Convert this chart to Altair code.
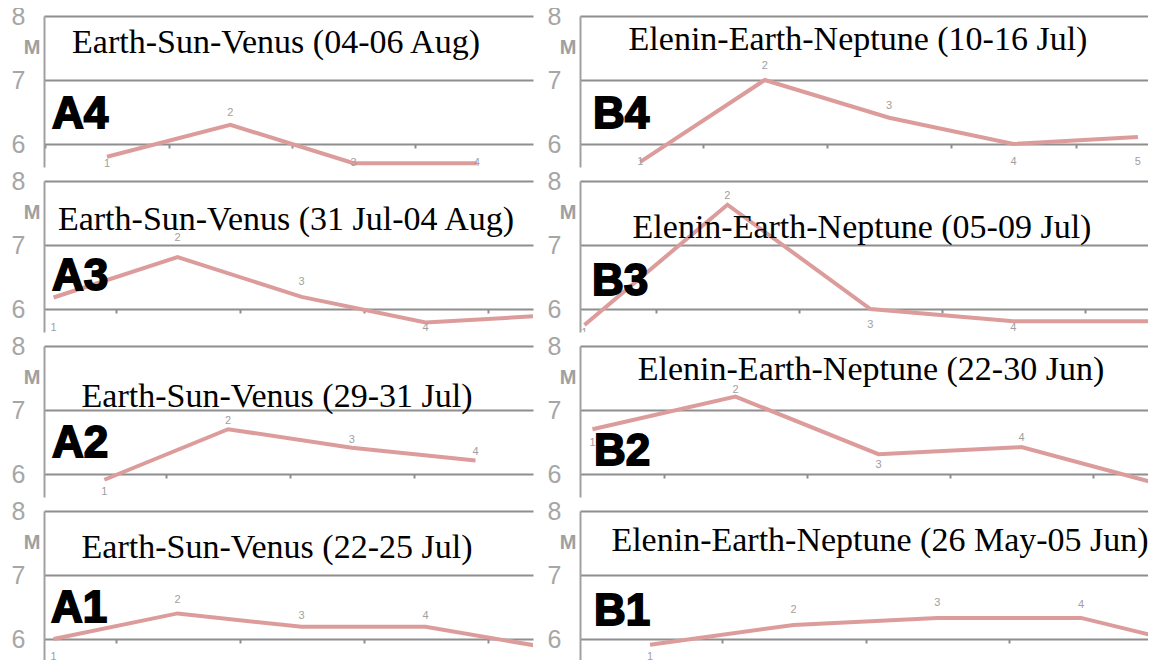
import altair as alt
import pandas as pd

# ---------------- data ----------------
PANELS = ["A4", "B4", "A3", "B3", "A2", "B2", "A1", "B1"]
TITLES = {
    "A4": "Earth-Sun-Venus (04-06 Aug)",
    "B4": "Elenin-Earth-Neptune (10-16 Jul)",
    "A3": "Earth-Sun-Venus (31 Jul-04 Aug)",
    "B3": "Elenin-Earth-Neptune (05-09 Jul)",
    "A2": "Earth-Sun-Venus (29-31 Jul)",
    "B2": "Elenin-Earth-Neptune (22-30 Jun)",
    "A1": "Earth-Sun-Venus (22-25 Jul)",
    "B1": "Elenin-Earth-Neptune (26 May-05 Jun)",
}
VALUES_A4 = [5.80, 6.30, 5.70, 5.70]
VALUES_B4 = [5.72, 7.00, 6.41, 6.00, 6.11]
VALUES_A3 = [6.18, 6.81, 6.19, 5.79, 5.90]
VALUES_B3 = [5.75, 7.63, 6.00, 5.81, 5.81]
VALUES_A2 = [5.91, 6.70, 6.41, 6.21]
VALUES_B2 = [6.70, 7.21, 6.31, 6.42, 5.82]
VALUES_A1 = [6.00, 6.40, 6.19, 6.19, 5.86]
VALUES_B1 = [5.91, 6.22, 6.33, 6.33, 5.78]
VALUES = {"A4": VALUES_A4, "B4": VALUES_B4, "A3": VALUES_A3, "B3": VALUES_B3,
          "A2": VALUES_A2, "B2": VALUES_B2, "A1": VALUES_A1, "B1": VALUES_B1}
Y_TICKS = [6, 7, 8]

# ---------------- layout / style ----------------
PX = 64.0                      # pixels per magnitude unit
ROW_H = [151, 151, 151, 149]
LEFT_W, RIGHT_W = 489, 568
X_DOMAIN = {"A4": (0.489, 4.455), "B4": (0.515, 5.081),
            "A3": (0.923, 4.866), "B3": (0.969, 4.941),
            "A2": (0.512, 4.465), "B2": (0.913, 4.885),
            "A1": (0.923, 4.866), "B1": (0.513, 4.466)}
TITLE_POS = {"A4": (232, 37), "B4": (278, 34), "A3": (242, 49), "B3": (282, 57),
             "A2": (233, 61), "B2": (291, 34), "A1": (233, 47), "B1": (300, 40)}
BIG_POS = {"A4": (8, 112), "B4": (13, 112), "A3": (8, 109), "B3": (12, 114),
           "A2": (8, 111), "B2": (14, 119), "A1": (7, 111), "B1": (14, 114)}
LABEL_DY = {"A4": [7, -12, 0, 0], "B4": [0, -14, -12, 18, 25],
            "A3": [31, -19, -15, 6, 0], "B3": [8, -9, 16, 7, 0],
            "A2": [12, -8, -8, -9], "B2": [14, -7, 11, -9, 0],
            "A1": [18, -13, -11, -11, 0], "B1": [12, -15, -15, -13, 0]}
LINE_COLOR = "#dd9c9c"
GRID_COLOR = "#8e8e8e"
AXIS_COLOR = "#a0a0a0"
LABEL_COLOR = "#a6a6a6"


def panel(name, width, height):
    vals = VALUES[name]
    n = len(vals)
    dys = LABEL_DY[name]
    d0, d1 = X_DOMAIN[name]
    df = pd.DataFrame({
        "idx": list(range(1, n + 1)),
        "val": vals,
    })
    # point labels only for the points that fall inside the visible window
    ldf = pd.DataFrame({
        "idx": [i for i in range(1, n + 1) if d0 <= i <= d1],
        "lab": [str(i) for i in range(1, n + 1) if d0 <= i <= d1],
        "laby": [vals[i - 1] - dys[i - 1] / PX for i in range(1, n + 1) if d0 <= i <= d1],
    })
    lo = 8 - height / PX
    xticks = [k + 0.5 for k in range(0, 7) if d0 < k + 0.5 < d1]
    xs = alt.Scale(domain=[d0, d1], nice=False, zero=False)
    ys = alt.Scale(domain=[lo, 8], nice=False, zero=False)
    xax = alt.Axis(values=xticks, domain=False, labels=False, grid=False, ticks=True,
                   tickSize=4, tickWidth=2, tickColor=GRID_COLOR,
                   offset=-(height - 2 * PX), title=None)
    yax = alt.Axis(values=Y_TICKS, grid=True, gridColor=GRID_COLOR, gridWidth=2,
                   domain=True, domainColor=AXIS_COLOR, domainWidth=2, ticks=False,
                   labelFont="Liberation Sans", labelFontSize=25, labelColor=LABEL_COLOR,
                   labelPadding=19, title=None)
    line = alt.Chart(df).mark_line(clip=True, color=LINE_COLOR, strokeWidth=4).encode(
        x=alt.X("idx:Q", scale=xs, axis=xax),
        y=alt.Y("val:Q", scale=ys, axis=yax),
    )
    labels = alt.Chart(ldf).mark_text(clip=True, font="Liberation Sans", fontSize=11,
                                      color="#a0a0a0", baseline="middle").encode(
        x=alt.X("idx:Q", scale=xs, axis=xax),
        y=alt.Y("laby:Q", scale=ys, axis=yax),
        text="lab:N",
    )
    tx, ty = TITLE_POS[name]
    title = alt.Chart(pd.DataFrame({"t": [TITLES[name]]})).mark_text(
        clip=True, font="Liberation Serif", fontSize=34, color="black",
        align="center", baseline="alphabetic").encode(
        x=alt.value(tx), y=alt.value(ty), text="t:N")
    bx, by = BIG_POS[name]
    big = alt.Chart(pd.DataFrame({"t": [name]})).mark_text(
        font="Liberation Sans", fontWeight="bold", fontSize=44, color="black",
        stroke="black", strokeWidth=1.8, align="left", baseline="alphabetic").encode(
        x=alt.value(bx), y=alt.value(by), text="t:N")
    m = alt.Chart(pd.DataFrame({"t": ["M"]})).mark_text(
        font="Liberation Sans", fontWeight="bold", fontSize=20, color=AXIS_COLOR,
        align="center", baseline="middle").encode(
        x=alt.value(-12), y=alt.value(32), text="t:N")
    return alt.layer(line, labels, title, big, m).properties(width=width, height=height)


cells = []
for i, name in enumerate(PANELS):
    r = i // 2
    w = LEFT_W if i % 2 == 0 else RIGHT_W
    cells.append(panel(name, w, ROW_H[r]))

chart = alt.concat(*cells, columns=2, spacing={"row": 14, "column": 47},
                   bounds="flush").properties(
    padding={"left": 3, "top": -4, "right": 0, "bottom": 0}
).configure_view(stroke=None)

chart.save("out.html", embed_options={"renderer": "svg", "actions": False})
